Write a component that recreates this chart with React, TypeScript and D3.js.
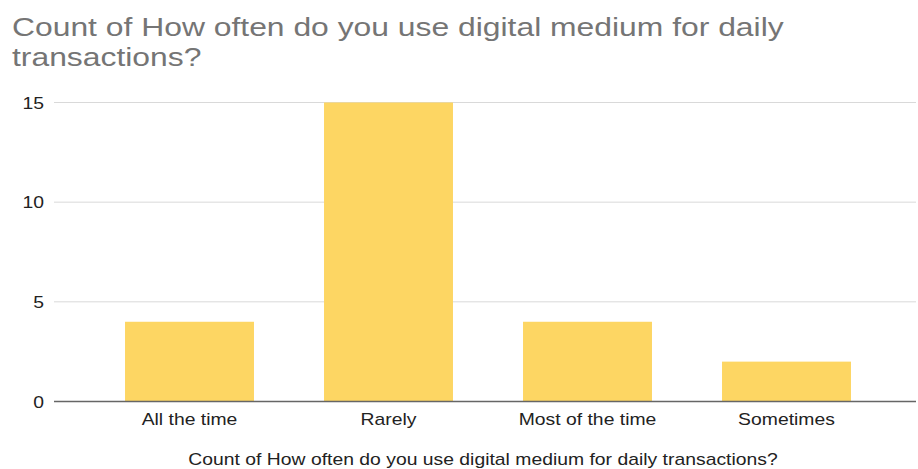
import React from "react";
import * as d3 from "d3";

const categories = ["All the time", "Rarely", "Most of the time", "Sometimes"];
const counts = [4, 15, 4, 2];
const yTicks = [0, 5, 10, 15];
const titleLines = ["Count of How often do you use digital medium for daily", "transactions?"];
const xTitle = "Count of How often do you use digital medium for daily transactions?";

const SX = 1.21;

function T(props: { x: number; y: number; anchor?: string; size: number; fill: string; sx?: number; children: React.ReactNode }) {
  return (
    <text
      transform={`translate(${props.x},${props.y}) scale(${props.sx || SX},1)`}
      textAnchor={props.anchor || "start"}
      fontSize={props.size}
      fill={props.fill}
    >
      {props.children}
    </text>
  );
}

export default function App() {
  const W = 918, H = 469;
  const gridLeft = 54, gridRight = 916;
  const y = d3.scaleLinear().domain([0, 15]).range([401.5, 102.5]);
  const x = d3.scaleBand<string>().domain(categories).range([90, 886]).paddingInner(0.352).paddingOuter(0.176);
  const font = "Arial, 'Liberation Sans', sans-serif";
  return (
    <svg width={W} height={H} style={{ position: "absolute", left: 0, top: 0, background: "#fff" }} fontFamily={font}>
      {titleLines.map((t, i) => (
        <T key={i} x={12} y={36 + i * 30} size={26} sx={1.225} fill="#757575">{t}</T>
      ))}
      {yTicks.map((t) => (
        <g key={t}>
          {t !== 0 && <line x1={gridLeft} x2={gridRight} y1={y(t)} y2={y(t)} stroke="#d9d9d9" strokeWidth={1} />}
          <T x={44} y={y(t) + 6} anchor="end" size={16} fill="#222">{t}</T>
        </g>
      ))}
      {categories.map((c, i) => (
        <rect key={c} x={x(c)} y={y(counts[i])} width={x.bandwidth()} height={y(0) - y(counts[i])} fill="#fdd663" />
      ))}
      <line x1={gridLeft} x2={gridRight} y1={y(0)} y2={y(0)} stroke="#666" strokeWidth={1.5} />
      {categories.map((c) => (
        <T key={c} x={(x(c) as number) + x.bandwidth() / 2} y={425} anchor="middle" size={16} fill="#222">{c}</T>
      ))}
      <T x={483} y={465} anchor="middle" size={16} fill="#222">{xTitle}</T>
    </svg>
  );
}
